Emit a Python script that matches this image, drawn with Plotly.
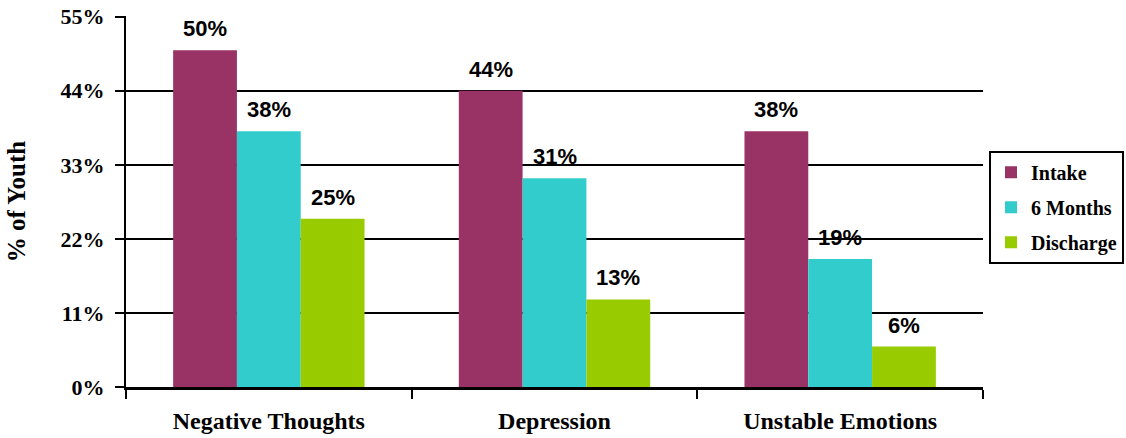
import plotly.graph_objects as go

categories = ["Negative Thoughts", "Depression", "Unstable Emotions"]
series_names = ["Intake", "6 Months", "Discharge"]
intake = [50, 44, 38]
six_months = [38, 31, 19]
discharge = [25, 13, 6]
colors = ["#993366", "#33CCCC", "#99CC00"]
y_ticks = [0, 11, 22, 33, 44, 55]

SERIF = "Liberation Serif, Times New Roman, serif"
SANS = "Liberation Sans, Arial, sans-serif"

L, R, T, B = 126, 143, 16, 51
W, H = 1126, 438
plot_w = W - L - R
bargap = 0.33
bar_px = plot_w / len(categories) * (1 - bargap) / len(series_names)

fig = go.Figure()
all_vals = [intake, six_months, discharge]
for i, (name, vals, col) in enumerate(zip(series_names, all_vals, colors)):
    fig.add_trace(go.Bar(
        name=f"<b>{name}</b>", x=categories, y=vals, legendgroup=name,
        marker=dict(color=col, line=dict(width=0)),
    ))
    for c, v in zip(categories, vals):
        fig.add_annotation(
            x=c, y=v, xref="x", yref="y", text=f"<b>{v}%</b>", showarrow=False,
            xshift=(i - 1) * bar_px, yanchor="bottom", yshift=7,
            font=dict(family=SANS, size=22, color="black"),
        )

fig.update_layout(
    width=W, height=H,
    margin=dict(l=L, r=R, t=T, b=B, autoexpand=False),
    paper_bgcolor="white", plot_bgcolor="white",
    barmode="group", bargap=bargap, bargroupgap=0,
    showlegend=True,
    legend=dict(
        x=(1124 - L) / plot_w, y=0.637, xanchor="right", yanchor="top",
        bordercolor="black", borderwidth=2, bgcolor="white",
        font=dict(family=SERIF, size=20, color="black"),
        tracegroupgap=6, itemwidth=30,
    ),
    font=dict(family=SERIF, color="black"),
)
fig.update_yaxes(
    range=[0, 55.1], tickvals=y_ticks, ticktext=[f"<b>{t}%</b>" for t in y_ticks],
    showgrid=True, gridcolor="black", gridwidth=2,
    showline=True, linecolor="black", linewidth=2,
    ticks="outside", ticklen=9, tickwidth=2, tickcolor="black",
    ticklabelstandoff=6,
    tickfont=dict(family=SERIF, size=22, color="black"),
    title=dict(text="<b>% of Youth</b>", standoff=28,
               font=dict(family=SERIF, size=25, color="black")),
    zeroline=False, fixedrange=True, automargin=True,
)
fig.update_xaxes(
    showline=True, linecolor="black", linewidth=3,
    ticks="outside", tickson="boundaries", ticklen=9, tickwidth=2, tickcolor="black",
    ticklabelstandoff=10,
    tickvals=categories, ticktext=[f"<b>{c}</b>" for c in categories],
    tickfont=dict(family=SERIF, size=24, color="black"),
    showgrid=False, automargin=False, fixedrange=True,
)

fig.write_html("out.html", config={"displayModeBar": False},
               post_script="document.body.style.margin='0';")
